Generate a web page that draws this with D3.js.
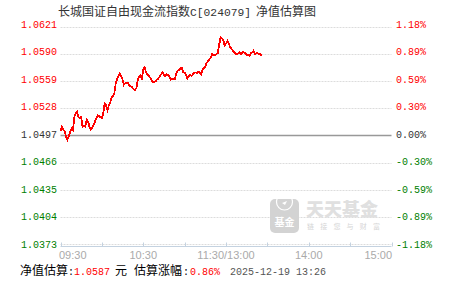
<!DOCTYPE html>
<meta charset="utf-8">
<style>
body { margin: 0; background: #fff; }
text { font-family: "Liberation Mono", monospace; font-size: 10px; }
.cn { font-family: "Noto Sans CJK SC", sans-serif; font-size: 12px; }
.xt { font-family: "Liberation Sans", Arial, sans-serif; font-size: 11px; fill: #aaa; }
</style>
<svg width="451" height="281" id="chart"></svg>
<script src="https://d3js.org/d3.v7.min.js"></script>
<script>

var fundName = "长城国证自由现金流指数";
var fundCode = "C[024079]";
var baseNav = 1.0497;
var estNav = "1.0587", estPct = "0.86%", estTime = "2025-12-19 13:26";

var navTicks = [1.0621, 1.0590, 1.0559, 1.0528, 1.0497, 1.0466, 1.0435, 1.0404, 1.0373];
var pctTicks = ["1.18%", "0.89%", "0.59%", "0.30%", "0.00%", "-0.30%", "-0.59%", "-0.89%", "-1.18%"];
var timeTicks = ["09:30", "10:30", "11:30/13:00", "14:00", "15:00"];

// estimated nav, one value per trading minute from 09:30 (to 13:26)
var navs = [
  1.0502, 1.0507, 1.0504, 1.0502, 1.0496, 1.0492, 1.0496, 1.0501, 1.0505, 1.0503,
  1.0518, 1.0522, 1.0524, 1.0518, 1.0517, 1.0518, 1.0507, 1.0508, 1.0507, 1.0515,
  1.0513, 1.0507, 1.0504, 1.0506, 1.0509, 1.0513, 1.0517, 1.0520, 1.0519, 1.0518,
  1.0517, 1.0522, 1.0534, 1.0532, 1.0526, 1.0531, 1.0534, 1.0540, 1.0542, 1.0545,
  1.0556, 1.0561, 1.0565, 1.0568, 1.0565, 1.0561, 1.0555, 1.0557, 1.0557, 1.0557,
  1.0554, 1.0553, 1.0552, 1.0550, 1.0549, 1.0551, 1.0560, 1.0564, 1.0566, 1.0562,
  1.0572, 1.0575, 1.0569, 1.0567, 1.0565, 1.0563, 1.0560, 1.0558, 1.0558, 1.0559,
  1.0561, 1.0562, 1.0565, 1.0567, 1.0569, 1.0566, 1.0565, 1.0567, 1.0566, 1.0564,
  1.0561, 1.0562, 1.0562, 1.0562, 1.0568, 1.0571, 1.0572, 1.0574, 1.0574, 1.0569,
  1.0569, 1.0566, 1.0562, 1.0565, 1.0566, 1.0565, 1.0567, 1.0569, 1.0569, 1.0568,
  1.0570, 1.0569, 1.0567, 1.0572, 1.0574, 1.0576, 1.0580, 1.0582, 1.0584, 1.0586,
  1.0590, 1.0589, 1.0589, 1.0590, 1.0591, 1.0600, 1.0609, 1.0608, 1.0606, 1.0600,
  1.0602, 1.0605, 1.0602, 1.0598, 1.0596, 1.0594, 1.0592, 1.0590, 1.0590, 1.0591,
  1.0592, 1.0590, 1.0592, 1.0592, 1.0591, 1.0589, 1.0589, 1.0588, 1.0591, 1.0592,
  1.0594, 1.0590, 1.0591, 1.0591, 1.0590, 1.0590, 1.0588
];

var svg = d3.select("#chart");

// trading minutes since 09:30, lunch break skipped
function minuteOf(t) {
  var p = t.split("/")[0].split(":");
  var m = +p[0] * 60 + +p[1];
  return m <= 690 ? m - 570 : m - 780 + 120;
}

var x = d3.scaleLinear().domain([0, 240]).range([60.5, 391.5]);
var y = d3.scaleLinear().domain([1.0373, 1.0621]).range([244, 27]);
var yLab = d3.scaleLinear().domain([1.0373, 1.0621]).range([244.2, 24.3]);

function tickColor(v) {
  return v > baseNav ? "#f00" : v < baseNav ? "#008000" : "#333";
}

// grid
svg.append("g").selectAll("line")
  .data(navTicks.filter(function(d) { return d !== baseNav; }))
  .enter().append("line")
  .attr("x1", x(0)).attr("x2", x(240))
  .attr("y1", function(d) { return Math.round(y(d)) + 0.5; })
  .attr("y2", function(d) { return Math.round(y(d)) + 0.5; })
  .attr("stroke", "#dcdcdc")
  .attr("stroke-dasharray", "2,1");

// watermark
var wm = svg.append("g");
wm.append("clipPath").attr("id", "iconclip")
  .append("rect").attr("x", 270).attr("y", 199).attr("width", 29).attr("height", 34).attr("rx", 5);
wm.append("rect").attr("x", 270).attr("y", 199).attr("width", 29).attr("height", 34).attr("rx", 5)
  .attr("fill", "#d3d3d3");
wm.append("circle").attr("cx", 284.5).attr("cy", 202).attr("r", 8)
  .attr("fill", "none").attr("stroke", "#fff").attr("stroke-width", 1.2)
  .attr("clip-path", "url(#iconclip)");
wm.append("path").attr("d", "M282,203 l5,-2 l-2,4 z").attr("fill", "#fff");
wm.append("text").attr("class", "cn").attr("x", 284.5).attr("y", 226)
  .attr("text-anchor", "middle").style("font-size", "10px").style("font-weight", "bold")
  .attr("fill", "#fff").text("基金");
wm.append("text").attr("class", "cn").attr("x", 306).attr("y", 216)
  .style("font-size", "18px").style("font-weight", "900").attr("fill", "#e0e0e0")
  .text("天天基金");
wm.append("text").attr("class", "cn").attr("x", 307).attr("y", 229)
  .style("font-size", "7px").style("letter-spacing", "6.2px").attr("fill", "#d6d6d6")
  .text("链接您与财富");

// zero line
svg.append("line")
  .attr("x1", x(0)).attr("x2", x(240))
  .attr("y1", y(baseNav)).attr("y2", y(baseNav))
  .attr("stroke", "#999").attr("stroke-width", 1.5);

// x axis
var axisY = 246.5;
svg.append("line")
  .attr("x1", x(0)).attr("x2", x(240))
  .attr("y1", axisY).attr("y2", axisY)
  .attr("stroke", "#c4d2e0");
svg.append("g").selectAll("line")
  .data(d3.range(0, 241, 30))
  .enter().append("line")
  .attr("x1", function(d) { return Math.round(x(d)) + 0.5; })
  .attr("x2", function(d) { return Math.round(x(d)) + 0.5; })
  .attr("y1", axisY - 4).attr("y2", axisY)
  .attr("stroke", "#c4d2e0");

svg.append("g").selectAll("text")
  .data(timeTicks)
  .enter().append("text")
  .attr("class", "xt")
  .attr("x", function(d, i) { return i === 0 ? x(minuteOf(d)) - 1.5 : i === timeTicks.length - 1 ? x(minuteOf(d)) + 0.5 : x(minuteOf(d)); })
  .attr("y", 259)
  .attr("text-anchor", function(d, i) { return i === 0 ? "start" : i === timeTicks.length - 1 ? "end" : "middle"; })
  .text(function(d) { return d; });

// y labels
svg.append("g").selectAll("text")
  .data(navTicks)
  .enter().append("text")
  .attr("x", 57).attr("y", function(d) { return yLab(d); })
  .attr("dy", "0.35em")
  .attr("text-anchor", "end")
  .attr("fill", tickColor)
  .text(function(d) { return d3.format(".4f")(d); });

svg.append("g").selectAll("text")
  .data(pctTicks)
  .enter().append("text")
  .attr("x", 396).attr("y", function(d, i) { return yLab(navTicks[i]); })
  .attr("dy", "0.35em")
  .attr("fill", function(d, i) { return tickColor(navTicks[i]); })
  .text(function(d) { return d; });

// nav line
var line = d3.line()
  .x(function(d, i) { return x(i); })
  .y(function(d) { return y(d); });

svg.append("path")
  .datum(navs)
  .attr("d", line)
  .attr("fill", "none")
  .attr("stroke", "#f00")
  .attr("stroke-width", 1.8)
  .attr("shape-rendering", "crispEdges");

// title
var title = svg.append("text").attr("x", 58).attr("y", 16).attr("fill", "#333");
title.append("tspan").attr("class", "cn").text(fundName);
title.append("tspan").style("font-size", "11.3px").text(fundCode);
title.append("tspan").attr("class", "cn").attr("dx", 5).text("净值估算图");

// footer
var foot = svg.append("text").attr("x", 20).attr("y", 275).attr("fill", "#000");
foot.append("tspan").attr("class", "cn").text("净值估算");
foot.append("tspan").text(":");
foot.append("tspan").attr("fill", "#f00").text(estNav);
foot.append("tspan").attr("class", "cn").attr("dx", 5).text("元");
foot.append("tspan").attr("class", "cn").attr("dx", 7).text("估算涨幅");
foot.append("tspan").attr("dx", 1).text(":");
foot.append("tspan").attr("fill", "#f00").attr("dx", 1).text(estPct);
foot.append("tspan").attr("fill", "#555").attr("dx", 10).text(estTime);

</script>
